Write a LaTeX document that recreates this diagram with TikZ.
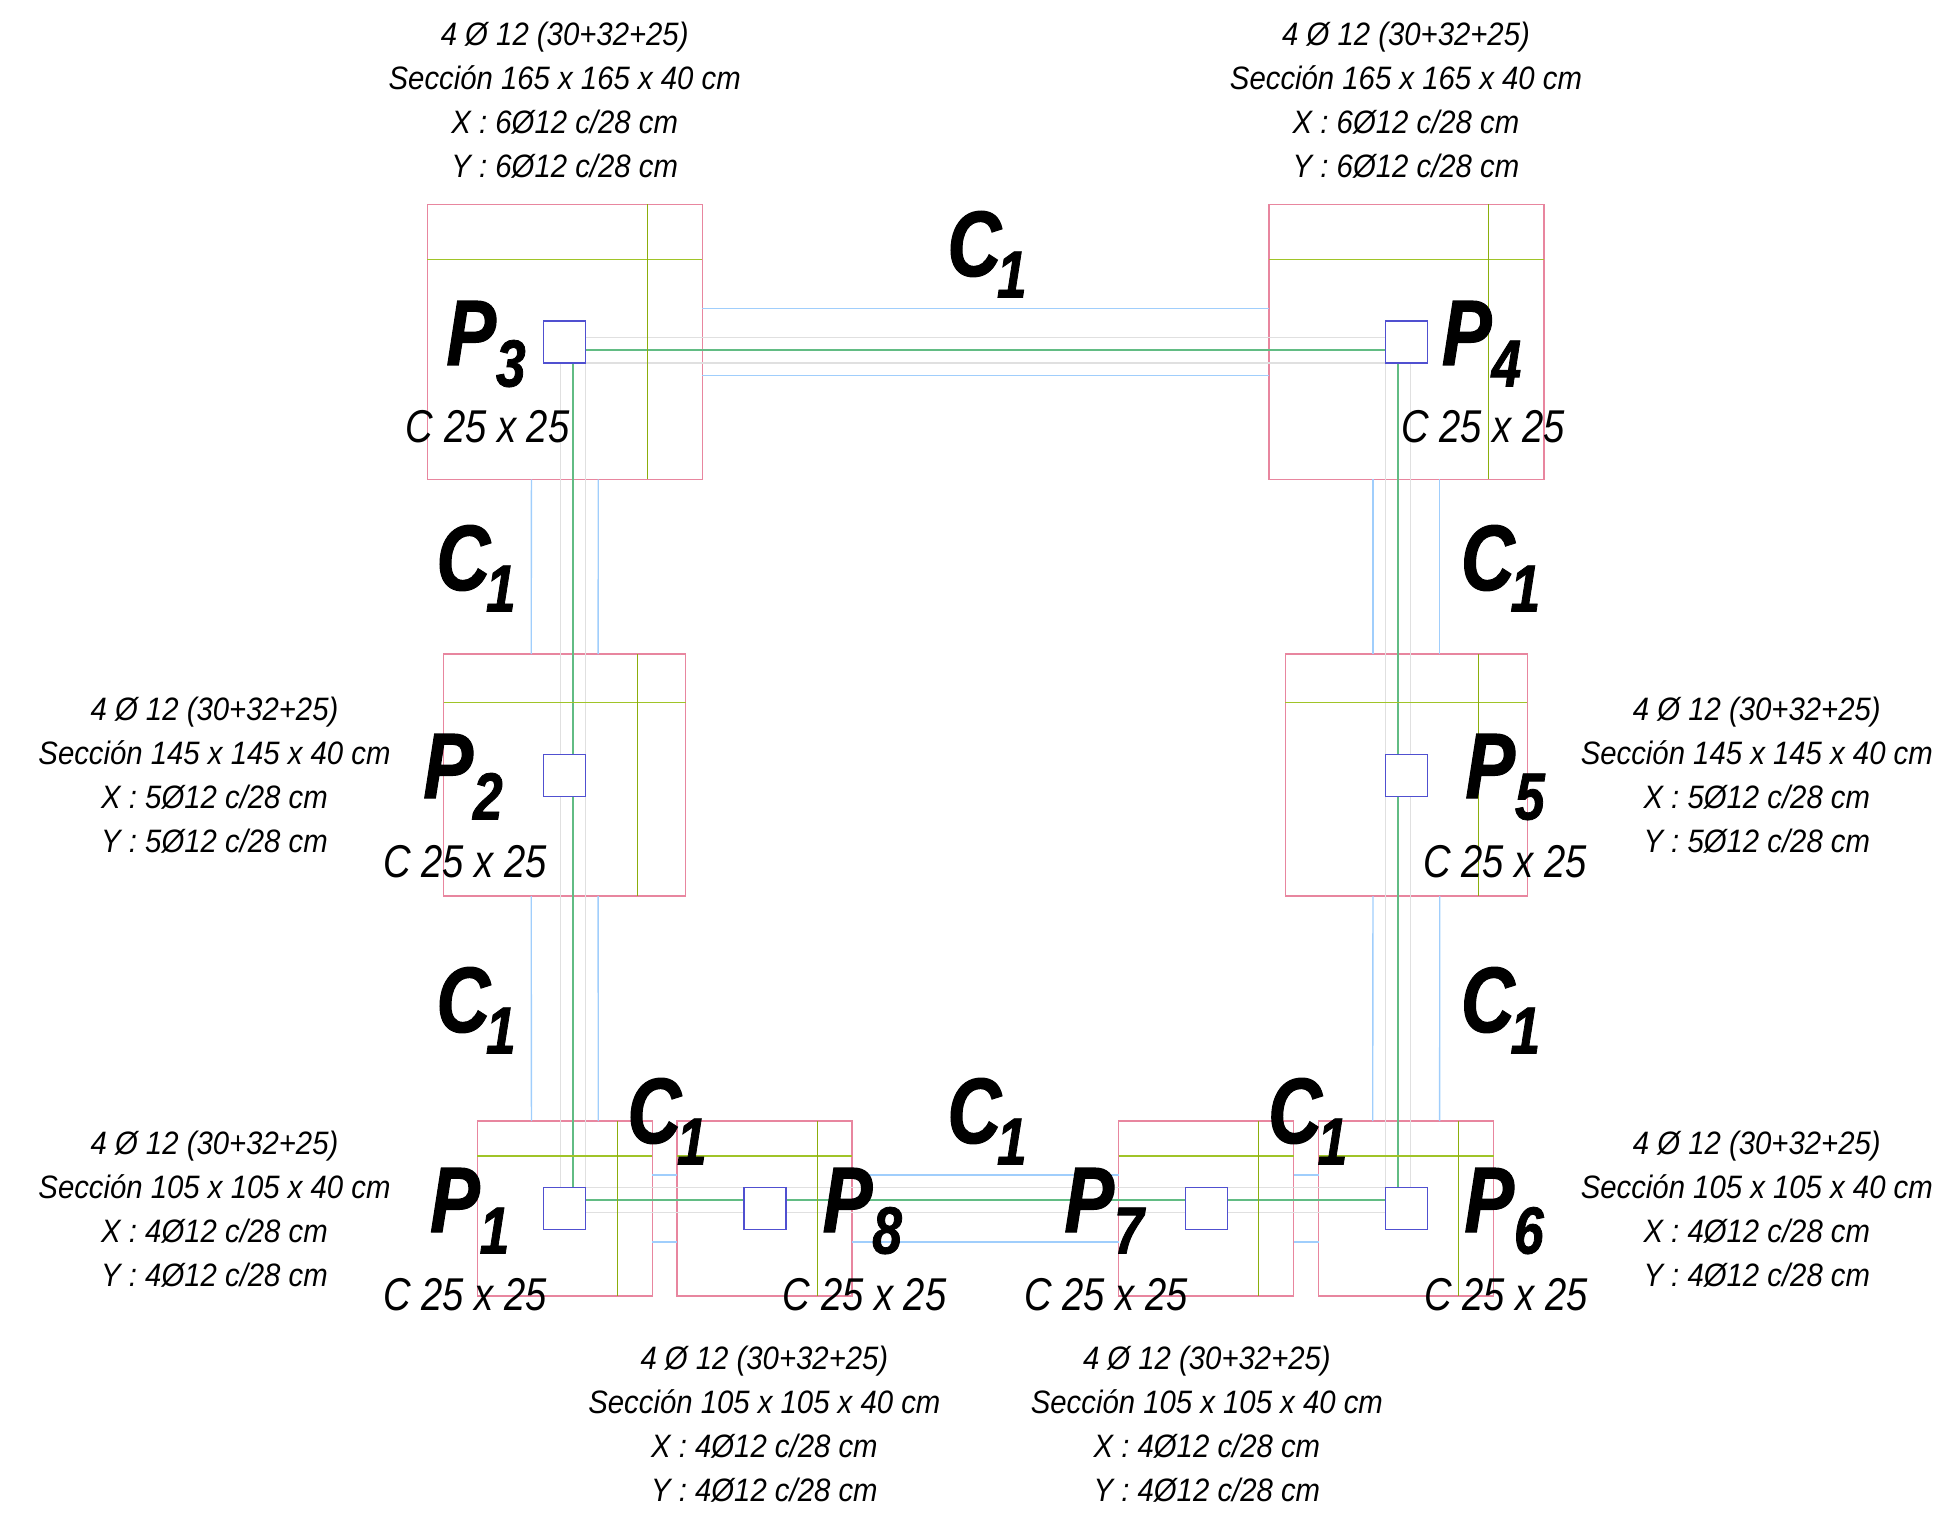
\documentclass[tikz,border=0pt]{standalone}
\usepackage{fontspec}
\setmainfont{Liberation Sans}
\newfontfamily\notef[FakeStretch=0.905]{Liberation Sans}
\newfontfamily\colf[FakeStretch=0.83]{Liberation Sans}
\newfontfamily\bigf[FakeStretch=0.8,FakeBold=1.2]{Liberation Sans}
\newcommand{\lab}[2]{\makebox[24.8pt][l]{#1}\raisebox{-10.75pt}{\fontsize{33.3}{33.3}\selectfont #2}}
\definecolor{footc}{HTML}{E8869F}
\definecolor{oliveh}{HTML}{A0C428}
\definecolor{olivev}{HTML}{8CAE0C}
\definecolor{colc}{HTML}{5050D0}
\definecolor{beamc}{HTML}{A0CEFC}
\definecolor{greyc}{HTML}{E0E0E0}
\definecolor{greenc}{HTML}{62BC84}
\tikzset{
  footing/.style={draw=footc,line width=.75pt,inner sep=0pt,outer sep=0pt,minimum size=#1*0.5pt},
  column/.style={draw=colc,fill=white,line width=.7pt,inner sep=0pt,outer sep=0pt,minimum size=21pt},
  beamline/.style={draw=beamc,line width=.65pt},
  greyline/.style={draw=greyc,line width=.7pt},
  greenline/.style={draw=greenc,line width=.8pt},
  oliveh/.style={draw=oliveh,line width=.75pt},
  olivev/.style={draw=olivev,line width=.65pt},
  notetxt/.style={font=\notef\itshape\fontsize{16.2}{22}\selectfont,align=center,inner sep=0pt,anchor=base},
  coltxt/.style={font=\colf\itshape\fontsize{23}{23}\selectfont,inner sep=0pt,anchor=base west},
  biglab/.style={font=\bigf\bfseries\itshape\fontsize{46.5}{46.5}\selectfont,inner sep=0pt,anchor=base west}
}
\newcommand{\olives}[2]{%
  \draw[oliveh] ([yshift=-#2*0.5pt]#1.north west) -- ([yshift=-#2*0.5pt]#1.north east);
  \draw[olivev] ([xshift=-#2*0.5pt]#1.north east) -- ([xshift=-#2*0.5pt]#1.south east);}
\newcommand{\notetext}[5]{\node[notetxt] (n#1) at (#2,#3) {4 Ø 12 (30+32+25)\\Sección #4 x #4 x 40 cm\\X : #5Ø12 c/28 cm\\Y : #5Ø12 c/28 cm};}
\begin{document}
\begin{tikzpicture}[x=0.5pt,y=-0.5pt]
\useasboundingbox (0,0) rectangle (1933,1513);
% footings
\node[footing=275] (f3) at (564.8,341.8) {};
\node[footing=275] (f4) at (1406.3,341.8) {};
\node[footing=242] (f2) at (564.7,775.2) {};
\node[footing=242] (f5) at (1406.3,775.2) {};
\node[footing=175] (f1) at (564.8,1208.5) {};
\node[footing=175] (f8) at (764.7,1208.5) {};
\node[footing=175] (f7) at (1206.2,1208.5) {};
\node[footing=175] (f6) at (1406.2,1208.5) {};
% columns (placed now, painted later)
\path (564.7,342) coordinate (p3) (1406.3,342) coordinate (p4)
      (564.7,775.2) coordinate (p2) (1406.3,775.2) coordinate (p5)
      (564.7,1208.7) coordinate (p1) (765,1208.7) coordinate (p8)
      (1206.7,1208.7) coordinate (p7) (1406.3,1208.7) coordinate (p6);
\node[column,draw=none,fill=none] (c3) at (p3) {};
\node[column,draw=none,fill=none] (c4) at (p4) {};
\node[column,draw=none,fill=none] (c2) at (p2) {};
\node[column,draw=none,fill=none] (c5) at (p5) {};
\node[column,draw=none,fill=none] (c1) at (p1) {};
\node[column,draw=none,fill=none] (c8) at (p8) {};
\node[column,draw=none,fill=none] (c7) at (p7) {};
\node[column,draw=none,fill=none] (c6) at (p6) {};
% beam edges
\foreach \s in {16.7pt,-16.7pt}{
  \draw[beamline] ([yshift=\s]f3.east) -- ([yshift=\s]f4.west);
  \draw[beamline] ([yshift=\s]f1.east) -- ([yshift=\s]f8.west);
  \draw[beamline] ([yshift=\s]f8.east) -- ([yshift=\s]f7.west);
  \draw[beamline] ([yshift=\s]f7.east) -- ([yshift=\s]f6.west);
  \draw[beamline] ([xshift=\s]f3.south) -- ([xshift=\s]f2.north);
  \draw[beamline] ([xshift=\s]f2.south) -- ([xshift=\s]f1.north);
  \draw[beamline] ([xshift=\s]f4.south) -- ([xshift=\s]f5.north);
  \draw[beamline] ([xshift=\s]f5.south) -- ([xshift=\s]f6.north);
}
% grey beam lines
\foreach \s in {8.3pt,21pt}{
  \draw[greyline] ([xshift=\s]c3.south west) -- ([xshift=\s]c2.north west);
  \draw[greyline] ([xshift=\s]c2.south west) -- ([xshift=\s]c1.north west);
}
\foreach \s in {0pt,12.5pt}{
  \draw[greyline] ([xshift=\s]c4.south west) -- ([xshift=\s]c5.north west);
  \draw[greyline] ([xshift=\s]c5.south west) -- ([xshift=\s]c6.north west);
  \draw[greyline] ([yshift=-\s]c1.north east) -- ([yshift=-\s]c8.north west);
  \draw[greyline] ([yshift=-\s]c8.north east) -- ([yshift=-\s]c7.north west);
  \draw[greyline] ([yshift=-\s]c7.north east) -- ([yshift=-\s]c6.north west);
}
\foreach \s in {8.2pt,21pt}{
  \draw[greyline] ([yshift=-\s]c3.north east) -- ([yshift=-\s]c4.north west);
}
% green axes
\draw[greenline] ([xshift=14.65pt]c3.south west) -- ([xshift=14.65pt]c2.north west);
\draw[greenline] ([xshift=14.65pt]c2.south west) -- ([xshift=14.65pt]c1.north west);
\draw[greenline] ([xshift=6.35pt]c4.south west) -- ([xshift=6.35pt]c5.north west);
\draw[greenline] ([xshift=6.35pt]c5.south west) -- ([xshift=6.35pt]c6.north west);
\draw[greenline] ([yshift=-14.5pt]c3.north east) -- ([yshift=-14.5pt]c4.north west);
\draw[greenline] ([yshift=-6.15pt]c1.north east) -- ([yshift=-6.15pt]c8.north west);
\draw[greenline] ([yshift=-6.15pt]c8.north east) -- ([yshift=-6.15pt]c7.north west);
\draw[greenline] ([yshift=-6.15pt]c7.north east) -- ([yshift=-6.15pt]c6.north west);
% reinforcement lines in the footings
\olives{f3}{55}\olives{f4}{55}
\olives{f2}{48.5}\olives{f5}{48.5}
\olives{f1}{35}\olives{f8}{35}\olives{f7}{35}\olives{f6}{35}
% columns painted
\foreach \c in {p1,p2,p3,p4,p5,p6,p7,p8}{\node[column] at (\c) {};}
% notes
\notetext{3}{564.7}{178}{165}{6}
\notetext{4}{1406}{178}{165}{6}
\notetext{2}{214.5}{852}{145}{5}
\notetext{5}{1756.8}{852}{145}{5}
\notetext{1}{214.5}{1286}{105}{4}
\notetext{6}{1756.8}{1286}{105}{4}
\notetext{8}{764.4}{1501}{105}{4}
\notetext{7}{1206.9}{1501}{105}{4}
% column sizes
\node[coltxt] (s3) at (405.5,443) {C 25 x 25};
\node[coltxt] (s4) at (1401,443) {C 25 x 25};
\node[coltxt] (s2) at (383,877) {C 25 x 25};
\node[coltxt] (s5) at (1423,877) {C 25 x 25};
\node[coltxt] (s1) at (383,1310) {C 25 x 25};
\node[coltxt] (s8) at (782.5,1310) {C 25 x 25};
\node[coltxt] (s7) at (1024,1310) {C 25 x 25};
\node[coltxt] (s6) at (1424,1310) {C 25 x 25};
% pile cap labels
\node[biglab] (l3) at (446,365) {\lab{P}{3}};
\node[biglab] (l4) at (1441.5,365) {\lab{P}{4}};
\node[biglab] (l2) at (423,798) {\lab{P}{2}};
\node[biglab] (l5) at (1465,798) {\lab{P}{5}};
\node[biglab] (l1) at (429.7,1232) {\lab{P}{1}};
\node[biglab] (l8) at (822.3,1232) {\lab{P}{8}};
\node[biglab] (l7) at (1064,1232) {\lab{P}{7}};
\node[biglab] (l6) at (1464,1232) {\lab{P}{6}};
% beam labels
\node[biglab] (b1) at (947,276) {\lab{C}{1}};
\node[biglab] (b2) at (436,590) {\lab{C}{1}};
\node[biglab] (b3) at (1460.5,590) {\lab{C}{1}};
\node[biglab] (b4) at (436,1032) {\lab{C}{1}};
\node[biglab] (b5) at (1460.5,1032) {\lab{C}{1}};
\node[biglab] (b6) at (627,1143) {\lab{C}{1}};
\node[biglab] (b7) at (947,1143) {\lab{C}{1}};
\node[biglab] (b8) at (1267.7,1143) {\lab{C}{1}};
\end{tikzpicture}
\end{document}
